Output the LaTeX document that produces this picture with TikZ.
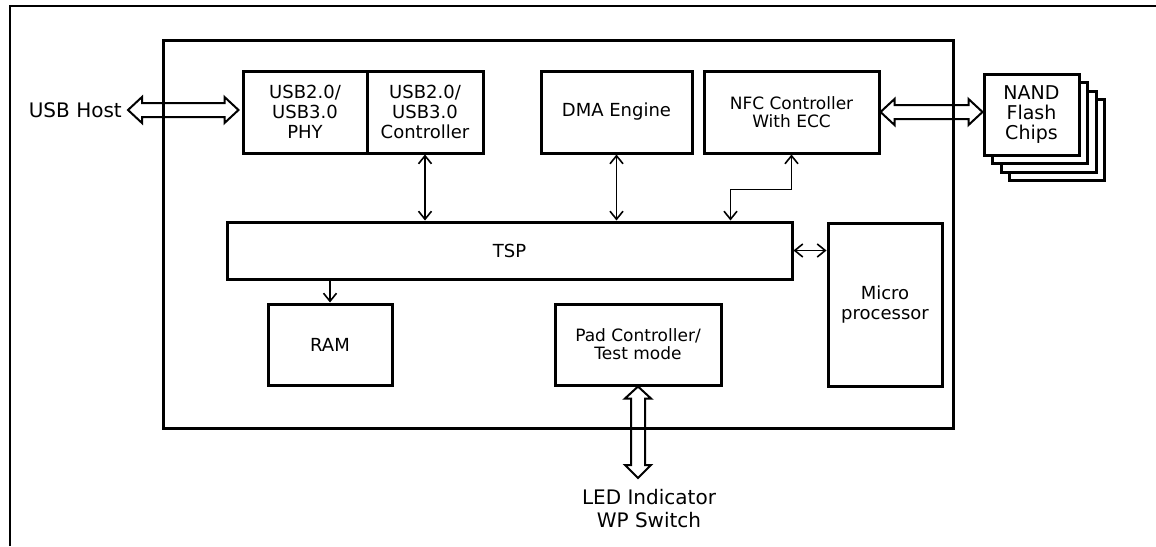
\documentclass[tikz,border=0pt]{standalone}
\usepackage{fontspec}
\setmainfont{DejaVu Sans}
\usetikzlibrary{arrows.meta,calc}
\tikzset{
  blk/.style={draw, line width=3pt, rectangle, align=center, inner sep=0pt, fill=white,
              font=\fontsize{18}{20}\selectfont},
  lbl/.style={align=center, inner sep=0pt, font=\fontsize{20}{23}\selectfont},
  tip/.tip={Straight Barb[length=8pt,width=13pt]},
  tarrow/.style={line width=1.6pt, tip-tip},
  tarrowend/.style={line width=1.6pt, -tip},
  fat/.style={draw, line width=2pt, line join=miter},
  frameline/.style={line width=2.5pt},
}
% hollow horizontal double arrow, y taken from #1
\newcommand\fatH[2]{\path[fat] let \p1=(#1), \p2=(#2) in
  (\x1,\y1) -- (\x1+14pt,\y1+13pt) -- (\x1+14pt,\y1+7pt) -- (\x2-14pt,\y1+7pt)
  -- (\x2-14pt,\y1+13pt) -- (\x2,\y1) -- (\x2-14pt,\y1-13pt) -- (\x2-14pt,\y1-7pt)
  -- (\x1+14pt,\y1-7pt) -- (\x1+14pt,\y1-13pt) -- cycle;}
% hollow vertical double arrow, x taken from #1 (top), #2 bottom
\newcommand\fatV[2]{\path[fat] let \p1=(#1), \p2=(#2) in
  (\x1,\y1) -- (\x1+13pt,\y1-12pt) -- (\x1+7pt,\y1-12pt) -- (\x1+7pt,\y2+13pt)
  -- (\x1+13pt,\y2+13pt) -- (\x1,\y2) -- (\x1-13pt,\y2+13pt) -- (\x1-7pt,\y2+13pt)
  -- (\x1-7pt,\y1-12pt) -- (\x1-13pt,\y1-12pt) -- cycle;}
\begin{document}
\begin{tikzpicture}[x=1pt,y=-1pt]
\useasboundingbox (0,0) rectangle (1156,546);
% outer frame (cropped)
\draw[frameline] (10,546) -- (10,6) -- (1156,6);

% NAND chips stack
\foreach \k in {3,2,1}{
  \node[blk, minimum width=95pt, minimum height=81pt] (chip\k) at (1031.5+8.5*\k,114.5+8.5*\k) {};
}
\node[blk, minimum width=95pt, minimum height=81pt, font=\fontsize{19}{20}\selectfont] (nand) at (1031.5,114.5) {NAND\\Flash\\Chips};

% blocks
\node[blk, minimum width=124pt, minimum height=82pt] (phy) at (305,112) {USB2.0/\\USB3.0\\PHY};
\node[blk, minimum width=116pt, minimum height=82pt] (ctrl) at (425,112) {USB2.0/\\USB3.0\\Controller};
\node[blk, minimum width=151pt, minimum height=82pt] (dma) at (616.5,112) {DMA Engine};
\node[blk, minimum width=175pt, minimum height=82pt, font=\fontsize{17}{18}\selectfont] (nfc) at (791.5,112) {NFC Controller\\With ECC};
\node[blk, minimum width=565pt, minimum height=57pt] (tsp) at (509.5,250.5) {TSP};
\node[blk, minimum width=114pt, minimum height=163pt] (micro) at (885,304.5) {Micro\\processor};
\node[blk, minimum width=124pt, minimum height=81pt] (ram) at (330,344.5) {RAM};
\node[blk, minimum width=166pt, minimum height=81pt, font=\fontsize{17}{18}\selectfont] (pad) at (638,344.5) {Pad Controller/\\Test mode};

% outside labels
\node[lbl, anchor=east] (host) at (122,110) {USB Host};
\node[lbl] (led) at (649,509) {LED Indicator\\WP Switch};
\coordinate (ledtip) at (637,478);

% thin connectors
\draw[tarrow] (ctrl.south) -- (ctrl.south |- tsp.north);
\draw[tarrow] (dma.south) -- (dma.south |- tsp.north);
\draw[tarrow] (nfc.south) -- ++(0,35) -| ($(tsp.north west)+(505,0)$);
\draw[tarrowend] (ram.north |- tsp.south) -- (ram.north);
\draw[tarrow] (tsp.east) -- (tsp.east -| micro.west);

% hollow double arrows
\fatH{$(host.east)+(6,0)$}{$(phy.west)+(-3,0)$}
\fatH{nfc.east}{nand.west}
\fatV{pad.south}{ledtip}

% main box
\draw[line width=3pt] (163,40) rectangle (953,428);
\end{tikzpicture}
\end{document}
